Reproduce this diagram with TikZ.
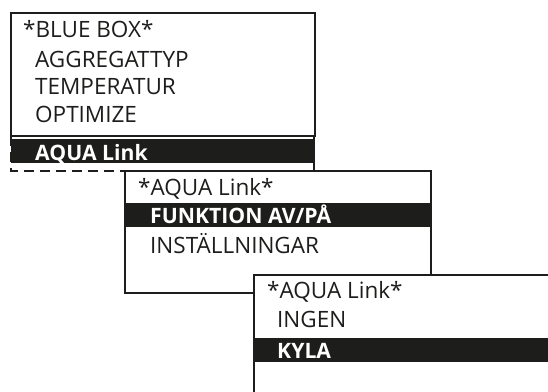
\documentclass[tikz,border=0pt]{standalone}
\usepackage{fontspec}
\setmainfont{Open Sans}
\usetikzlibrary{calc}
\definecolor{menubar}{RGB}{29,29,27}
\tikzset{
	screen/.style={draw=menubar,line width=2pt,fill=white},
	selbar/.style={fill=menubar},
	menuitem/.style={anchor=base west,inner sep=0pt,text=menubar,font=\fontsize{22.5}{22.5}\selectfont},
	selitem/.style={anchor=base west,inner sep=0pt,text=white,font=\fontsize{21.2}{21.2}\selectfont\bfseries},
}

\begin{document}
\begin{tikzpicture}[x=1pt,y=-1pt]
	\useasboundingbox (0,0) rectangle (548,391);
	\clip (0,0) rectangle (548,391);
	\draw[screen] (11,13) rectangle (315,136);
	\draw[menubar,line width=2pt,dash pattern=on 10pt off 6pt] (11,136) rectangle (314,171);
	\fill[selbar] (11,139) rectangle (315,163);
	\node[menuitem] (bbtitle) at (23,37) {*BLUE BOX*};
	\node[menuitem] (aggr) at (35,67) {AGGREGATTYP};
	\node[menuitem] (temp) at (35,94) {TEMPERATUR};
	\node[menuitem] (optim) at (35,122) {OPTIMIZE};
	\node[selitem] (aqua) at (35,160) {AQUA Link};
	\draw[screen] (125,171) rectangle (431,293);
	\fill[selbar] (125,203) rectangle (431,227);
	\node[menuitem] (altitle) at (138,195) {*AQUA Link*};
	\node[selitem] (funk) at (150,223) {FUNKTION AV/PÅ};
	\node[menuitem] (inst) at (150,253) {INSTÄLLNINGAR};
	\draw[screen] (254,275) rectangle (570,410);
	\fill[selbar] (254,338) rectangle (570,362);
	\node[menuitem] (kytitle) at (267,298) {*AQUA Link*};
	\node[menuitem] (ingen) at (277,327) {INGEN};
	\node[selitem] (kyla) at (277,358) {KYLA};
\end{tikzpicture}
\end{document}
